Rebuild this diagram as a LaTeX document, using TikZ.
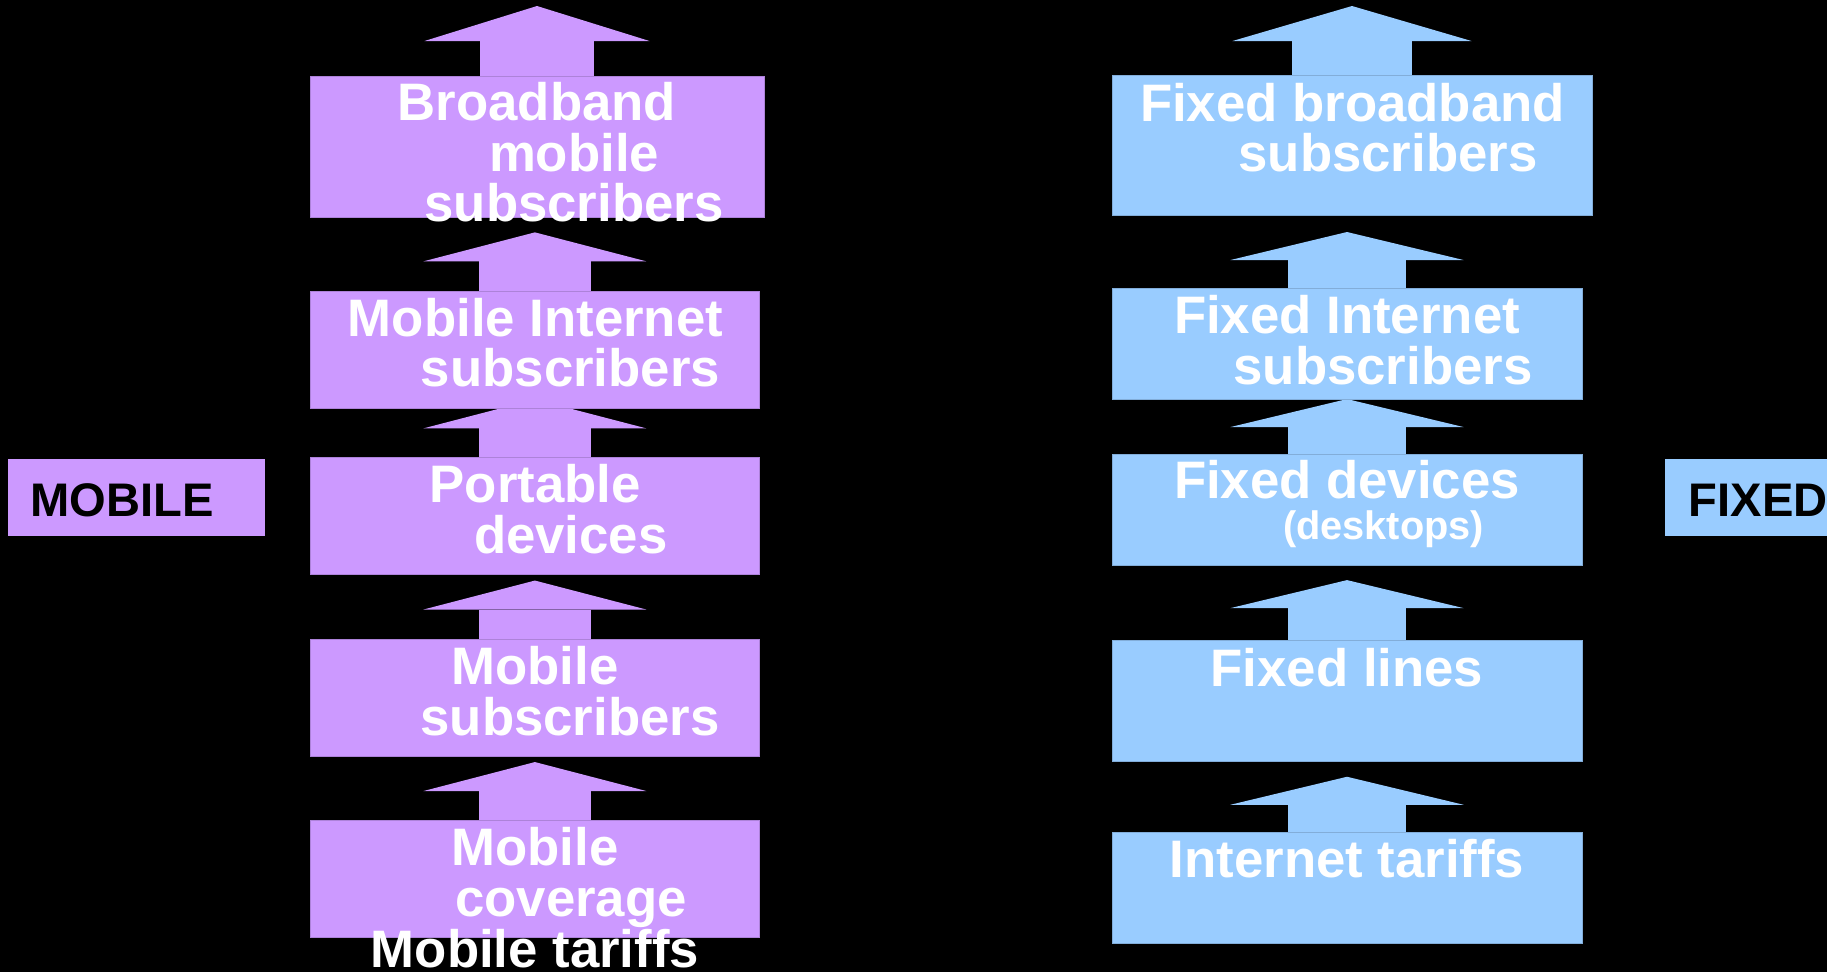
\documentclass[tikz,border=0pt]{standalone}
\usepackage{fontspec}
\setmainfont{Liberation Sans}
\usetikzlibrary{arrows.meta,calc}
\definecolor{mobfill}{HTML}{CC99FF}
\definecolor{fixfill}{HTML}{99CCFF}
\pgfdeclarelayer{bg}
\pgfsetlayers{bg,main}
\tikzset{
  blockbox/.style={rectangle, inner sep=0pt, outer sep=0pt, line width=0.2pt},
  boxtext/.style={text=white, font=\fontsize{15}{14.4}\selectfont\bfseries, align=center, inner sep=0pt, anchor=base},
  sidelabel/.style={text=black, font=\fontsize{13.4}{16}\selectfont\bfseries, inner sep=0pt, anchor=base west},
  uparrow/.style n args={3}{line width=#1, -{Triangle[width=#2,length=#3,line width=0pt]}},
}

\begin{document}
\begin{tikzpicture}[x=0.01cm, y=-0.01cm]
  \useasboundingbox (0,0) rectangle (1827,972);

  % mobile column
  \node[blockbox, fill=mobfill, draw=mobfill!85!black, minimum width=4.536cm, minimum height=1.41cm] (mbb) at (537.5,146.8) {};
  \node[blockbox, fill=mobfill, draw=mobfill!85!black, minimum width=4.483cm, minimum height=1.173cm] (mint) at (534.9,349.7) {};
  \node[blockbox, fill=mobfill, draw=mobfill!85!black, minimum width=4.483cm, minimum height=1.17cm] (mport) at (534.9,516) {};
  \node[blockbox, fill=mobfill, draw=mobfill!85!black, minimum width=4.483cm, minimum height=1.17cm] (msub) at (534.9,697.5) {};
  \node[blockbox, fill=mobfill, draw=mobfill!85!black, minimum width=4.483cm, minimum height=1.174cm] (mcov) at (534.9,879) {};
  \coordinate (mtop) at (537,6);

  % text nodes sit on the baseline of their last line
  \node[boxtext] (mbbtext) at (537,221.7) {Broadband\\\hspace*{0.74cm}mobile\\\hspace*{0.74cm}subscribers};
  \node[boxtext] (minttext) at (535.5,386.7) {Mobile Internet\\\hspace*{0.7cm}subscribers};
  \node[boxtext] (mporttext) at (535.3,553.3) {Portable\\\hspace*{0.71cm}devices};
  \node[boxtext] (msubtext) at (535,735) {Mobile\\\hspace*{0.7cm}subscribers};
  \node[boxtext] (mcovtext) at (535,967) {Mobile\\\hspace*{0.72cm}coverage\\Mobile tariffs};

  % fixed column
  \node[blockbox, fill=fixfill, draw=fixfill!85!black, minimum width=4.797cm, minimum height=1.393cm] (fbb) at (1352.2,145.3) {};
  \node[blockbox, fill=fixfill, draw=fixfill!85!black, minimum width=4.694cm, minimum height=1.11cm] (fint) at (1347,343.5) {};
  \node[blockbox, fill=fixfill, draw=fixfill!85!black, minimum width=4.694cm, minimum height=1.107cm] (fdev) at (1347,509.7) {};
  \node[blockbox, fill=fixfill, draw=fixfill!85!black, minimum width=4.694cm, minimum height=1.21cm] (flin) at (1347,701.2) {};
  \node[blockbox, fill=fixfill, draw=fixfill!85!black, minimum width=4.694cm, minimum height=1.11cm] (ftar) at (1347,887.8) {};
  \coordinate (ftop) at (1352,6);

  \node[boxtext] (fbbtext) at (1352.5,171.7) {Fixed broadband\\\hspace*{0.71cm}subscribers};
  \node[boxtext] (finttext) at (1347,384) {Fixed Internet\\\hspace*{0.72cm}subscribers};
  \node[boxtext] (fdevtext) at (1347,539.3) {Fixed devices\\[-0.1cm]\hspace*{0.73cm}{\fontsize{11.3}{12}\selectfont(desktops)}};
  \node[boxtext] (flintext) at (1347,686) {Fixed lines};
  \node[boxtext] (ftartext) at (1347,877.3) {Internet tariffs};

  % side labels
  \node[blockbox, fill=mobfill, minimum width=2.57cm, minimum height=0.767cm] (mlabel) at (136.5,497.4) {};
  \node[sidelabel] (mlabeltext) at (30,516) {MOBILE};
  \node[blockbox, fill=fixfill, minimum width=1.62cm, minimum height=0.767cm] (flabel) at (1746,497.4) {};
  \node[sidelabel] (flabeltext) at (1688,516) {FIXED};

  \begin{pgfonlayer}{bg}
    \fill[black] (0,0) rectangle (1827,972);
    \foreach \lo/\hi/\gap in {mcov/msub/0.06cm, msub/mport/0.06cm, mport/mint/-0.09cm, mint/mbb/0.15cm}
      \draw[uparrow={1.12cm}{2.23cm}{0.29cm}, mobfill, shorten >=\gap] (\lo.north) -- (\lo.north |- \hi.south);
    \draw[uparrow={1.13cm}{2.25cm}{0.35cm}, mobfill] (mbb.north -| mtop) -- (mtop);
    \foreach \lo/\hi/\gap in {ftar/flin/0.15cm, flin/fdev/0.15cm, fdev/fint/0cm, fint/fbb/0.17cm}
      \draw[uparrow={1.17cm}{2.33cm}{0.28cm}, fixfill, shorten >=\gap] (\lo.north) -- (\lo.north |- \hi.south);
    \draw[uparrow={1.2cm}{2.39cm}{0.35cm}, fixfill] (fbb.north -| ftop) -- (ftop);
  \end{pgfonlayer}
\end{tikzpicture}
\end{document}
